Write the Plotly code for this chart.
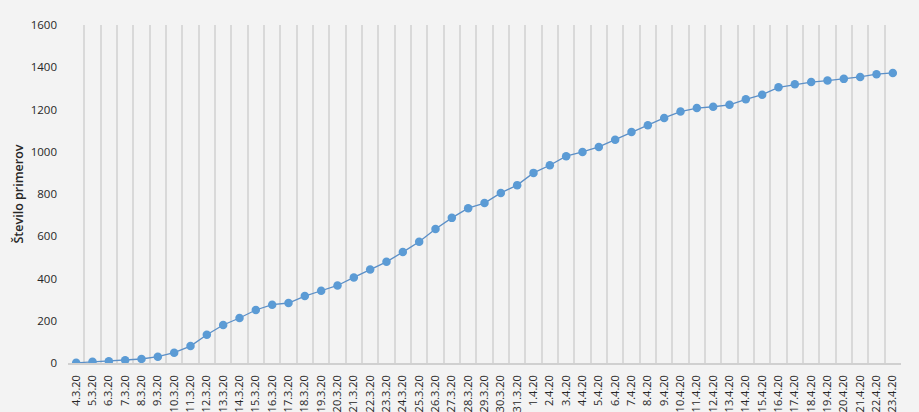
import plotly.graph_objects as go

dates = ["4.3.20","5.3.20","6.3.20","7.3.20","8.3.20","9.3.20","10.3.20","11.3.20","12.3.20",
         "13.3.20","14.3.20","15.3.20","16.3.20","17.3.20","18.3.20","19.3.20","20.3.20","21.3.20",
         "22.3.20","23.3.20","24.3.20","25.3.20","26.3.20","27.3.20","28.3.20","29.3.20","30.3.20",
         "31.3.20","1.4.20","2.4.20","3.4.20","4.4.20","5.4.20","6.4.20","7.4.20","8.4.20","9.4.20",
         "10.4.20","11.4.20","12.4.20","13.4.20","14.4.20","15.4.20","16.4.20","17.4.20","18.4.20",
         "19.4.20","20.4.20","21.4.20","22.4.20","23.4.20"]
cases = [1, 6, 8, 13, 19, 30, 49, 80, 134, 180, 213, 251, 276, 284, 317, 342, 367, 405,
         443, 479, 525, 574, 634, 687, 733, 757, 805, 842, 900, 936, 979, 999, 1023, 1057,
         1094, 1125, 1160, 1190, 1207, 1213, 1222, 1248, 1270, 1305, 1319, 1330, 1337, 1345,
         1354, 1367, 1373]
y_ticks = [0, 200, 400, 600, 800, 1000, 1200, 1400, 1600]
y_title = "Število primerov"

fig = go.Figure()
fig.add_trace(go.Scatter(
    x=dates, y=cases, mode="lines+markers",
    line=dict(color="#5b8fc7", width=1.3),
    marker=dict(color="#5b9bd5", size=8.5),
    hoverinfo="x+y",
))

font_family = "Open Sans, Liberation Sans, sans-serif"
fig.update_layout(
    width=919, height=412,
    margin=dict(l=68, r=18, t=25, b=49),
    paper_bgcolor="#f3f3f3", plot_bgcolor="#f3f3f3",
    showlegend=False,
    font=dict(family=font_family, color="#262626"),
    xaxis=dict(
        type="category",
        automargin=False,
        tickson="boundaries",
        showgrid=True, gridcolor="#d9d9d9", gridwidth=1.5,
        showline=True, linecolor="#d0d0d0", linewidth=1.5,
        ticks="", tickangle=-90,
        ticklabelstandoff=6,
        tickfont=dict(size=11, color="#262626"),
        range=[-0.5, len(dates) - 0.5],
    ),
    yaxis=dict(
        automargin=False,
        range=[0, 1600],
        tickvals=y_ticks,
        showgrid=False, zeroline=False, showline=False,
        ticks="", ticklabelstandoff=10,
        tickfont=dict(size=11.5, color="#262626"),
        title=dict(text=y_title, font=dict(size=12.5, color="#262626", weight=600), standoff=4),
    ),
)

fig.write_html(
    "out.html",
    config={"displayModeBar": False},
    post_script="document.body.style.margin='0';document.body.style.background='#f3f3f3';",
)
